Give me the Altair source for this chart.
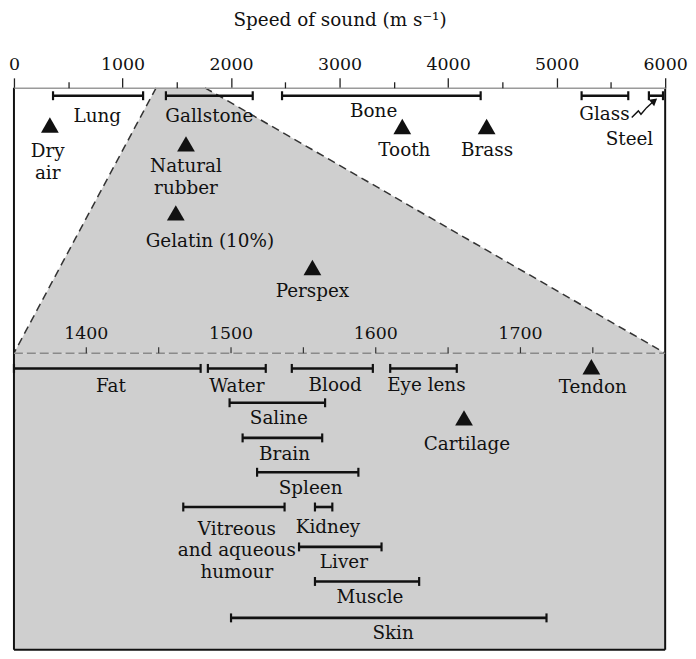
import altair as alt
import pandas as pd

FONT = "DejaVu Serif"
FS = 18.5          # labels / title
FS_TICK = 17.5     # tick labels
INK = "#111111"
GRAY = "#cfcfcf"
W, H = 656, 566
LINE_H = 22

# ---------- upper panel: full scale 0-6000 m/s ----------
top_names = ["Lung", "Gallstone", "Bone", "Glass", "Steel"]
top_lo = [360, 1400, 2470, 5230, 5850]
top_hi = [1190, 2200, 4300, 5660, 5980]
top_row = [8, 8, 8, 8, 8]
top_lab_x = [768, 1800, 3314, 5440, 5671]
top_lab_row = [28, 28, 23, 26, 52]

pt_names = ["Dry|air", "Natural|rubber", "Tooth", "Brass", "Gelatin (10%)", "Perspex"]
pt_speed = [331, 1585, 3578, 4355, 1491, 2750]
pt_row = [37.5, 56.5, 39, 39, 126, 181]
pt_lab_x = [311, 1585, 3597, 4359, 1805, 2750]
pt_lab_row = [64, 79, 63, 63, 154, 205]

# zoomed window (1350-1800) as drawn on the full scale, and panel split
zoom_top_lo, zoom_top_hi = 1310, 1760
split_row = 267.3

# steel annotation arrow
arrow_x = [5692, 5753, 5777, 5829, 5884]
arrow_row = [30, 23.3, 26.7, 20, 14.5]
arrow_head_x, arrow_head_row = 5900, 13

# ---------- lower panel: 1350-1800 m/s ----------
low_names = ["Fat", "Water", "Blood", "Eye lens", "Saline", "Brain", "Spleen",
             "Vitreous|and aqueous|humour", "Kidney", "Liver", "Muscle", "Skin"]
low_lo = [1350, 1484, 1542, 1610, 1499, 1508, 1518, 1467, 1558, 1547, 1558, 1500]
low_hi = [1479, 1524, 1598, 1656, 1565, 1563, 1588, 1537, 1570, 1604, 1630, 1718]
low_row = [282.7, 282.7, 282.7, 282.7, 317.3, 352.7, 387.3, 422.3, 422.3, 462.5, 497.3, 534]
low_lab_x = [1417, 1504, 1572, 1635, 1533, 1537, 1555, 1504, 1567, 1578, 1596, 1612]
low_lab_row = [300, 300, 299, 299, 333, 369, 403, 444, 442, 478, 513, 549]

lpt_names = ["Tendon", "Cartilage"]
lpt_speed = [1749, 1661]
lpt_row = [281, 332.5]
lpt_lab_x = [1750, 1663]
lpt_lab_row = [301, 359]

top_ticks_major = [0, 1000, 2000, 3000, 4000, 5000, 6000]
top_ticks_minor = [500, 1500, 2500, 3500, 4500, 5500]
low_ticks = [1400, 1450, 1500, 1550, 1600, 1650, 1700, 1750]
low_tick_labels = [1400, 1500, 1600, 1700]
LOW_TICK_LEN = 6

# ---------- helpers ----------
yscale = alt.Scale(domain=[0, H], reverse=True, nice=False, zero=False)
xs_top = alt.Scale(domain=[0, 6000], nice=False, zero=False)
xs_low = alt.Scale(domain=[1350, 1800], nice=False, zero=False)


def Y(f):
    return alt.Y(f"{f}:Q", scale=yscale, axis=None)


def XT(f, axis=None):
    return alt.X(f"{f}:Q", scale=xs_top, axis=axis)


def XL(f, axis=None):
    return alt.X(f"{f}:Q", scale=xs_low, axis=axis)


def text_df(names, xs, rows):
    recs = []
    for n, x, r in zip(names, xs, rows):
        for i, line in enumerate(n.split("|")):
            recs.append({"x": x, "y": r + i * LINE_H, "t": line})
    return pd.DataFrame(recs)


def caps_df(lo, hi, rows):
    recs = []
    for a, b, r in zip(lo, hi, rows):
        recs.append({"x": a, "y": r})
        recs.append({"x": b, "y": r})
    return pd.DataFrame(recs)


txt = dict(font=FONT, fontSize=FS, color=INK, align="center", baseline="middle")

axis_top = alt.Axis(
    orient="top", values=top_ticks_major, format="d", tickSize=10, tickColor="#222222",
    tickWidth=1.3, domainColor="#9a9a9a", domainWidth=1.5, labelFont=FONT,
    labelFontSize=FS_TICK, labelColor=INK, labelPadding=4, labelOverlap=False,
    labelFlush=False, grid=False, title="Speed of sound (m s\u207b\u00b9)",
    titleFont=FONT, titleFontSize=FS, titleFontWeight="normal", titleColor=INK,
    titlePadding=27, zindex=1)
axis_top_minor = alt.Axis(
    orient="top", values=top_ticks_minor, tickSize=6, tickColor="#222222",
    tickWidth=1.3, labels=False, domain=False, grid=False, title="", zindex=1)

# ---------- upper group ----------
trap = alt.Chart(pd.DataFrame({
    "y": [0, split_row], "lo": [zoom_top_lo, 0], "hi": [zoom_top_hi, 6000]
})).mark_area(orient="horizontal", color=GRAY, opacity=1).encode(
    y=Y("y"), x=XT("lo", axis_top), x2="hi:Q")

lower_bg = alt.Chart(pd.DataFrame({
    "x": [0], "x2": [6000], "y": [split_row], "y2": [H]
})).mark_rect(color=GRAY, opacity=1).encode(
    x=XT("x"), x2="x2:Q", y=Y("y"), y2="y2:Q")

sides = alt.Chart(pd.DataFrame({
    "x": [zoom_top_lo, zoom_top_hi], "x2": [0, 6000], "y": [0, 0],
    "y2": [split_row, split_row]
})).mark_rule(color="#333333", strokeWidth=1.5, strokeDash=[8, 5]).encode(
    x=XT("x"), x2="x2:Q", y=Y("y"), y2="y2:Q")

borders = alt.Chart(pd.DataFrame({
    "x": [0, 6000, 0], "x2": [0, 6000, 6000], "y": [0, 0, H], "y2": [H, H, H]
})).mark_rule(color="#111111", strokeWidth=2).encode(
    x=XT("x", axis_top_minor), x2="x2:Q", y=Y("y"), y2="y2:Q")

top_bar_df = pd.DataFrame({"lo": top_lo, "hi": top_hi, "y": top_row})
top_bars = alt.Chart(top_bar_df).mark_rule(color=INK, strokeWidth=2.6).encode(
    x=XT("lo"), x2="hi:Q", y=Y("y"))
top_caps = alt.Chart(caps_df(top_lo, top_hi, top_row)).mark_tick(
    orient="vertical", size=9, thickness=2.2, color=INK, opacity=1).encode(
    x=XT("x"), y=Y("y"))
top_pts = alt.Chart(pd.DataFrame({"x": pt_speed, "y": pt_row})).mark_point(
    shape="triangle-up", filled=True, size=320, color=INK, opacity=1).encode(
    x=XT("x"), y=Y("y"))
top_text = alt.Chart(pd.concat([
    text_df(top_names, top_lab_x, top_lab_row),
    text_df(pt_names, pt_lab_x, pt_lab_row)])).mark_text(**txt).encode(
    x=XT("x"), y=Y("y"), text="t:N")
arrow = alt.Chart(pd.DataFrame({
    "x": arrow_x, "y": arrow_row, "i": list(range(len(arrow_x)))
})).mark_line(color=INK, strokeWidth=1.4).encode(
    x=XT("x"), y=Y("y"), order="i:Q")
arrow_head = alt.Chart(pd.DataFrame({"x": [arrow_head_x], "y": [arrow_head_row]})).mark_point(
    shape="triangle-up", filled=True, size=70, angle=51, color=INK, opacity=1).encode(
    x=XT("x"), y=Y("y"))

top_group = alt.layer(
    trap, lower_bg, sides, borders, top_bars, top_caps, top_pts, top_text,
    arrow, arrow_head).resolve_axis(x="independent")

# ---------- lower group (with its own inset axis) ----------
low_domain = alt.Chart(pd.DataFrame({"x": [1350], "x2": [1800], "y": [split_row]})).mark_rule(
    color="#8a8a8a", strokeWidth=1.5, strokeDash=[9, 4]).encode(
    x=XL("x"), x2="x2:Q", y=Y("y"))
low_tick_marks = alt.Chart(pd.DataFrame({
    "x": low_ticks, "y": [split_row] * len(low_ticks),
    "y2": [split_row - LOW_TICK_LEN] * len(low_ticks)
})).mark_rule(color="#333333", strokeWidth=1.2).encode(
    x=XL("x"), y=Y("y"), y2="y2:Q")
low_tick_text = alt.Chart(pd.DataFrame({
    "x": low_tick_labels, "y": [split_row - LOW_TICK_LEN - 8] * len(low_tick_labels),
    "t": [str(v) for v in low_tick_labels]
})).mark_text(font=FONT, fontSize=FS_TICK, color=INK, align="center",
              baseline="alphabetic").encode(x=XL("x"), y=Y("y"), text="t:N")

low_bar_df = pd.DataFrame({"lo": low_lo, "hi": low_hi, "y": low_row})
low_bars = alt.Chart(low_bar_df).mark_rule(color=INK, strokeWidth=2.6).encode(
    x=XL("lo"), x2="hi:Q", y=Y("y"))
low_caps = alt.Chart(caps_df(low_lo, low_hi, low_row)).mark_tick(
    orient="vertical", size=9, thickness=2.2, color=INK, opacity=1).encode(
    x=XL("x"), y=Y("y"))
low_pts = alt.Chart(pd.DataFrame({"x": lpt_speed, "y": lpt_row})).mark_point(
    shape="triangle-up", filled=True, size=320, color=INK, opacity=1).encode(
    x=XL("x"), y=Y("y"))
low_text = alt.Chart(pd.concat([
    text_df(low_names, low_lab_x, low_lab_row),
    text_df(lpt_names, lpt_lab_x, lpt_lab_row)])).mark_text(**txt).encode(
    x=XL("x"), y=Y("y"), text="t:N")

low_group = alt.layer(low_domain, low_tick_marks, low_tick_text,
                      low_bars, low_caps, low_pts, low_text)

chart = alt.layer(top_group, low_group).resolve_scale(x="independent").properties(
    width=W, height=H, padding={"left": 0, "top": 0, "right": 0, "bottom": 0},
    background="white"
).configure_view(stroke="transparent")

chart.save("out.html", embed_options={"renderer": "svg", "actions": False})
